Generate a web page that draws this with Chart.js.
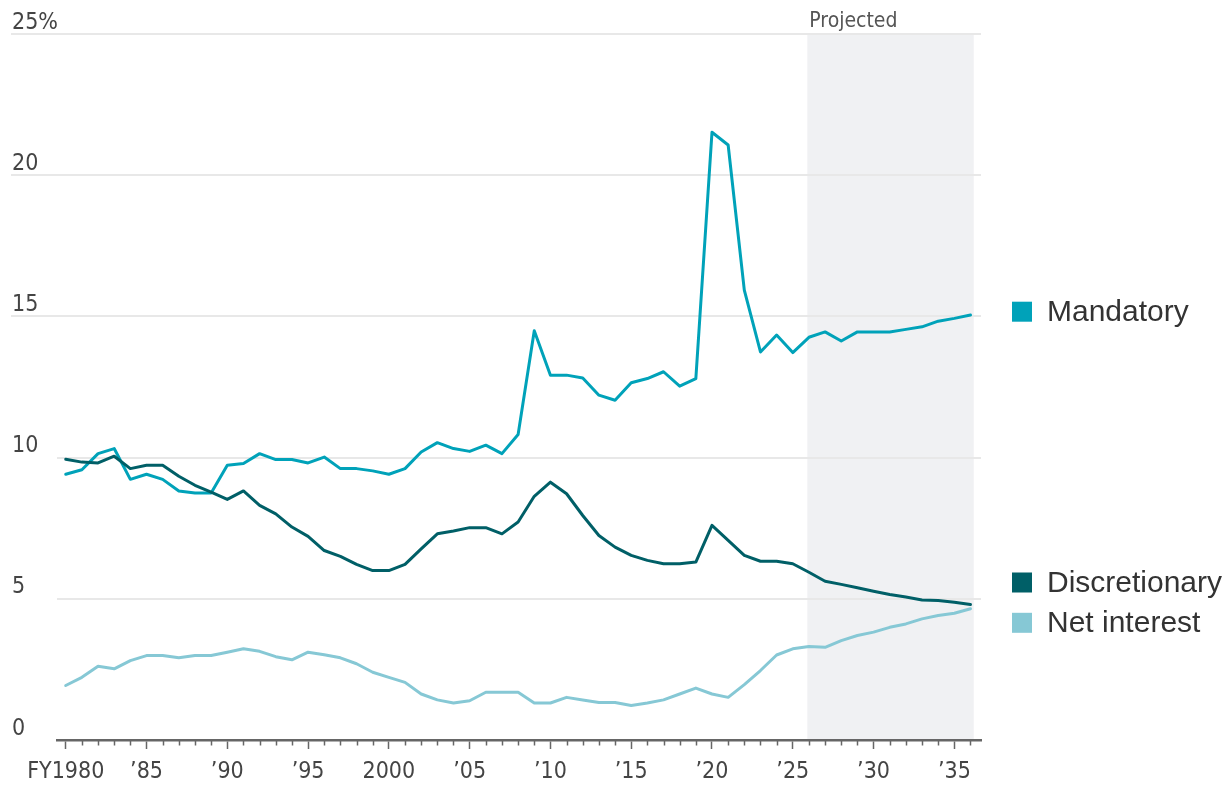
<!DOCTYPE html>
<html>
<head>
<meta charset="utf-8">
<title>Federal outlays by category, share of GDP</title>
<script src="https://cdn.jsdelivr.net/npm/chart.js@4/dist/chart.umd.min.js"></script>
<style>
  html, body { margin: 0; padding: 0; background: #ffffff; }
  canvas { display: block; }
</style>
</head>
<body>
<canvas id="chart" width="1226" height="787"></canvas>
<script>
// Fiscal years 1980–2036 (2026 onward are projections)
const years = [];
for (let y = 1980; y <= 2036; y++) years.push(y);

// Outlays as a share of GDP, %
const mandatory = [
  9.41, 9.57, 10.14, 10.32, 9.23, 9.41, 9.23, 8.82, 8.75, 8.75,
  9.73, 9.79, 10.14, 9.93, 9.93, 9.81, 10.02, 9.61, 9.61, 9.53,
  9.41, 9.61, 10.2, 10.53, 10.32, 10.22, 10.44, 10.14, 10.82, 14.49,
  12.92, 12.92, 12.82, 12.21, 12.03, 12.65, 12.8, 13.04, 12.53, 12.8,
  21.52, 21.07, 15.93, 13.74, 14.34, 13.72, 14.26, 14.45, 14.13, 14.45,
  14.45, 14.45, 14.54, 14.63, 14.83, 14.93, 15.05
];
const discretionary = [
  9.94, 9.84, 9.81, 10.05, 9.61, 9.73, 9.73, 9.34, 9.02, 8.78,
  8.52, 8.82, 8.31, 8.01, 7.54, 7.21, 6.71, 6.5, 6.22, 6.0,
  6.0, 6.22, 6.77, 7.3, 7.4, 7.52, 7.52, 7.3, 7.72, 8.63,
  9.13, 8.72, 7.95, 7.24, 6.83, 6.54, 6.36, 6.24, 6.24, 6.3,
  7.6, 7.07, 6.54, 6.33, 6.33, 6.24, 5.94, 5.62, 5.51, 5.39,
  5.27, 5.15, 5.06, 4.96, 4.94, 4.88, 4.8
];
const netInterest = [
  1.93, 2.22, 2.61, 2.52, 2.81, 2.99, 2.99, 2.91, 2.99, 2.99,
  3.11, 3.23, 3.14, 2.95, 2.84, 3.11, 3.02, 2.91, 2.7, 2.4,
  2.22, 2.04, 1.63, 1.42, 1.31, 1.39, 1.69, 1.69, 1.69, 1.31,
  1.31, 1.51, 1.42, 1.33, 1.33, 1.22, 1.31, 1.42, 1.63, 1.84,
  1.63, 1.51, 1.96, 2.46, 3.01, 3.23, 3.31, 3.28, 3.52, 3.70,
  3.82, 3.99, 4.11, 4.29, 4.41, 4.49, 4.65
];

const seriesNames = ['Net interest', 'Discretionary', 'Mandatory'];

// Axis ticks and labels
const xTickYears  = [1980, 1985, 1990, 1995, 2000, 2005, 2010, 2015, 2020, 2025, 2030, 2035];
const xTickLabels = ['FY1980', '\u201985', '\u201990', '\u201995', '2000', '\u201905', '\u201910', '\u201915', '\u201920', '\u201925', '\u201930', '\u201935'];
const yTickValues = [0, 5, 10, 15, 20, 25];
const yTickLabels = ['0', '5', '10', '15', '20', '25%'];

// Projection window
const projectedLabel = 'Projected';
const projectedRange = [2025.9, 2036.2];

const NARROW = "'Liberation Sans Narrow', 'DejaVu Sans Condensed', 'Liberation Sans', sans-serif";
const REGULAR = "'Liberation Sans', Arial, sans-serif";
const COLORS = { 'Mandatory': '#00a2b9', 'Discretionary': '#005f67', 'Net interest': '#86c8d5' };

function toPoints(values) {
  return values.map((v, i) => ({ x: years[i], y: v }));
}

const seriesValues = { 'Net interest': netInterest, 'Discretionary': discretionary, 'Mandatory': mandatory };

const datasets = seriesNames.map(name => ({
  label: name,
  data: toPoints(seriesValues[name]),
  borderColor: COLORS[name],
  backgroundColor: COLORS[name],
  borderWidth: 3,
  pointRadius: 0,
  tension: 0,
  borderJoinStyle: 'round',
  borderCapStyle: 'round',
  fill: false
}));

// Background shading, gridlines, y labels and minor x ticks
const decor = {
  id: 'decor',
  beforeDraw(chart) {
    const { ctx } = chart;
    const xs = chart.scales.x, ys = chart.scales.y;
    ctx.save();
    // projected period
    const px0 = xs.getPixelForValue(projectedRange[0]);
    const px1 = xs.getPixelForValue(projectedRange[1]);
    const pyTop = ys.getPixelForValue(25);
    const pyBot = ys.getPixelForValue(0);
    ctx.fillStyle = '#f0f1f3';
    ctx.fillRect(px0, pyTop, px1 - px0, pyBot - pyTop);

    // horizontal gridlines
    ctx.strokeStyle = '#e8e8e8';
    ctx.lineWidth = 2;
    yTickValues.forEach(v => {
      if (v === 0) return;
      const py = Math.round(ys.getPixelForValue(v));
      const startX = v >= 15 ? 11 : chart.chartArea.left;
      ctx.beginPath();
      ctx.moveTo(startX, py);
      ctx.lineTo(chart.chartArea.right, py);
      ctx.stroke();
    });

    // y labels sit just above their gridlines
    ctx.fillStyle = '#444';
    ctx.font = '23px ' + NARROW;
    ctx.textAlign = 'left';
    ctx.textBaseline = 'alphabetic';
    yTickValues.forEach((v, i) => {
      const py = ys.getPixelForValue(v);
      ctx.fillText(yTickLabels[i], 12, py - 5.5);
    });

    // projection label
    ctx.fillStyle = '#555';
    ctx.font = '21px ' + NARROW;
    ctx.fillText(projectedLabel, px0 + 2, 27);
    ctx.restore();
  },
  afterDraw(chart) {
    const { ctx } = chart;
    const xs = chart.scales.x;
    const base = chart.chartArea.bottom;
    ctx.save();
    // minor (yearly) ticks
    ctx.strokeStyle = '#666';
    ctx.lineWidth = 1.5;
    years.forEach(y => {
      if (y % 5 === 0) return;
      const px = Math.round(xs.getPixelForValue(y)) + 0.5;
      ctx.beginPath();
      ctx.moveTo(px, base);
      ctx.lineTo(px, base + 5.5);
      ctx.stroke();
    });

    // legend at the right of the plot
    const legendRows = [
      { name: 'Mandatory', cy: 311.7 },
      { name: 'Discretionary', cy: 582.5 },
      { name: 'Net interest', cy: 622.8 }
    ];
    ctx.font = '30px ' + REGULAR;
    ctx.textAlign = 'left';
    ctx.textBaseline = 'alphabetic';
    legendRows.forEach(r => {
      ctx.fillStyle = COLORS[r.name];
      ctx.fillRect(1012, r.cy - 10, 20, 20);
      ctx.fillStyle = '#333';
      ctx.fillText(r.name, 1047, r.cy + 9);
    });
    ctx.restore();
  }
};

new Chart(document.getElementById('chart'), {
  type: 'line',
  data: { datasets },
  options: {
    responsive: false,
    animation: false,
    devicePixelRatio: 1,
    layout: { padding: { left: 57, right: 245, top: 34, bottom: 0 } },
    plugins: { legend: { display: false }, tooltip: { enabled: false } },
    scales: {
      x: {
        type: 'linear',
        min: 1979.46,
        max: 2036.65,
        afterFit: s => { s.height = 47; },
        border: { display: true, color: '#666', width: 2.5 },
        grid: {
          display: true,
          drawOnChartArea: false,
          drawTicks: true,
          tickLength: 9,
          tickWidth: 1.5,
          tickColor: c => (c.tick && xTickYears.includes(c.tick.value)) ? '#666' : 'rgba(0,0,0,0)'
        },
        ticks: {
          stepSize: 1,
          autoSkip: false,
          includeBounds: false,
          maxRotation: 0,
          padding: 9,
          color: '#444',
          font: { family: NARROW, size: 23 },
          callback: v => {
            const i = xTickYears.indexOf(v);
            return i >= 0 ? xTickLabels[i] : '';
          }
        }
      },
      y: { display: false, min: 0, max: 25 }
    }
  },
  plugins: [decor]
});
</script>
</body>
</html>
